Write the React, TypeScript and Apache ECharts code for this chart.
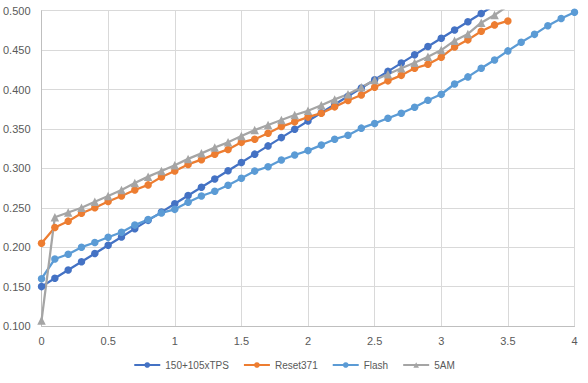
import React, { useEffect, useRef } from "react";
import * as echarts from "echarts";

const seriesNames = ["150+105xTPS", "Reset371", "Flash", "5AM"];
const xTicks = [0, 0.5, 1, 1.5, 2, 2.5, 3, 3.5, 4];

const tpsX = [0, 0.1, 0.2, 0.3, 0.4, 0.5, 0.6, 0.7, 0.8, 0.9, 1.0, 1.1, 1.2, 1.3, 1.4, 1.5, 1.6, 1.7, 1.8, 1.9, 2.0, 2.1, 2.2, 2.3, 2.4, 2.5, 2.6, 2.7, 2.8, 2.9, 3.0, 3.1, 3.2, 3.3, 3.4];
const tpsY = [0.150, 0.1605, 0.171, 0.1815, 0.192, 0.2025, 0.213, 0.2235, 0.234, 0.2445, 0.255, 0.2655, 0.276, 0.2865, 0.297, 0.3075, 0.318, 0.3285, 0.339, 0.3495, 0.360, 0.3705, 0.381, 0.3915, 0.402, 0.4125, 0.423, 0.4335, 0.444, 0.4545, 0.465, 0.4755, 0.486, 0.4965, 0.507];

const resetX = [0, 0.1, 0.2, 0.3, 0.4, 0.5, 0.6, 0.7, 0.8, 0.9, 1.0, 1.1, 1.2, 1.3, 1.4, 1.5, 1.6, 1.7, 1.8, 1.9, 2.0, 2.1, 2.2, 2.3, 2.4, 2.5, 2.6, 2.7, 2.8, 2.9, 3.0, 3.1, 3.2, 3.3, 3.4, 3.5];
const resetY = [0.205, 0.225, 0.233, 0.243, 0.250, 0.258, 0.265, 0.2725, 0.279, 0.289, 0.2966, 0.305, 0.311, 0.318, 0.324, 0.333, 0.337, 0.3445, 0.353, 0.359, 0.365, 0.370, 0.378, 0.386, 0.393, 0.403, 0.411, 0.418, 0.427, 0.432, 0.441, 0.454, 0.463, 0.474, 0.482, 0.487];

const flashX = [0, 0.1, 0.2, 0.3, 0.4, 0.5, 0.6, 0.7, 0.8, 0.9, 1.0, 1.1, 1.2, 1.3, 1.4, 1.5, 1.6, 1.7, 1.8, 1.9, 2.0, 2.1, 2.2, 2.3, 2.4, 2.5, 2.6, 2.7, 2.8, 2.9, 3.0, 3.1, 3.2, 3.3, 3.4, 3.5, 3.6, 3.7, 3.8, 3.9, 4.0];
const flashY = [0.160, 0.185, 0.191, 0.200, 0.206, 0.2125, 0.219, 0.228, 0.235, 0.2435, 0.248, 0.257, 0.265, 0.271, 0.2785, 0.2875, 0.2965, 0.302, 0.3105, 0.317, 0.3225, 0.3295, 0.337, 0.342, 0.351, 0.357, 0.3635, 0.370, 0.3775, 0.3865, 0.394, 0.407, 0.416, 0.427, 0.4375, 0.449, 0.460, 0.470, 0.481, 0.490, 0.498];

const amX = [0, 0.1, 0.2, 0.3, 0.4, 0.5, 0.6, 0.7, 0.8, 0.9, 1.0, 1.1, 1.2, 1.3, 1.4, 1.5, 1.6, 1.7, 1.8, 1.9, 2.0, 2.1, 2.2, 2.3, 2.4, 2.5, 2.6, 2.7, 2.8, 2.9, 3.0, 3.1, 3.2, 3.3, 3.4, 3.5];
const amY = [0.107, 0.238, 0.244, 0.250, 0.2577, 0.265, 0.2725, 0.2815, 0.2895, 0.2966, 0.304, 0.312, 0.319, 0.3265, 0.333, 0.341, 0.3485, 0.355, 0.3613, 0.3677, 0.373, 0.380, 0.3875, 0.394, 0.403, 0.412, 0.4195, 0.427, 0.434, 0.4415, 0.450, 0.462, 0.4705, 0.4848, 0.4945, 0.506];

const colors = ["#4472C4", "#ED7D31", "#5B9BD5", "#A5A5A5"];

const zip = (xs: number[], ys: number[]) => xs.map((x, i) => [x, ys[i]]);

export default function App() {
  const ref = useRef<HTMLDivElement>(null);
  useEffect(() => {
    if (!ref.current) return;
    const chart = echarts.init(ref.current, undefined, { renderer: "svg" });
    const font = "'Liberation Sans', Arial, sans-serif";
    const mk = (i: number, xs: number[], ys: number[], symbol: string, size: number) => ({
      name: seriesNames[i],
      type: "line",
      data: zip(xs, ys),
      symbol,
      symbolSize: size,
      showAllSymbol: true,
      clip: true,
      lineStyle: { color: colors[i], width: 2.25 },
      itemStyle: { color: colors[i], borderWidth: 0 },
      emphasis: { disabled: true },
    });
    chart.setOption({
      animation: false,
      color: colors,
      textStyle: { fontFamily: font },
      grid: { left: 41, right: 13.5, top: 10.7, bottom: 57, containLabel: false },
      xAxis: {
        type: "value",
        min: 0,
        max: 4,
        interval: 0.5,
        axisLine: { show: true, onZero: false, lineStyle: { color: "#BFBFBF", width: 1 } },
        axisTick: { show: false },
        splitLine: { show: true, lineStyle: { color: "#D9D9D9", width: 1 } },
        axisLabel: {
          color: "#595959",
          fontSize: 11,
          fontFamily: font,
          margin: 9,
          formatter: (v: number) => (xTicks.includes(v) ? String(v) : ""),
        },
      },
      yAxis: {
        type: "value",
        min: 0.1,
        max: 0.5,
        interval: 0.05,
        axisLine: { show: true, lineStyle: { color: "#BFBFBF", width: 1 } },
        axisTick: { show: false },
        splitLine: { show: true, lineStyle: { color: "#D9D9D9", width: 1 } },
        axisLabel: {
          color: "#595959",
          fontSize: 11,
          fontFamily: font,
          margin: 11,
          formatter: (v: number) => v.toFixed(3),
        },
      },
      legend: {
        bottom: 8,
        left: "center",
        itemWidth: 26,
        itemHeight: 7,
        itemGap: 14,
        textStyle: { color: "#595959", fontSize: 10, fontFamily: font },
        data: seriesNames,
      },
      series: [
        mk(0, tpsX, tpsY, "circle", 7.5),
        mk(1, resetX, resetY, "circle", 7.5),
        mk(2, flashX, flashY, "circle", 7.5),
        mk(3, amX, amY, "triangle", 8.5),
      ],
    });
    return () => chart.dispose();
  }, []);
  return <div ref={ref} style={{ width: 588, height: 383, position: "absolute", left: 0, top: 0 }} />;
}
